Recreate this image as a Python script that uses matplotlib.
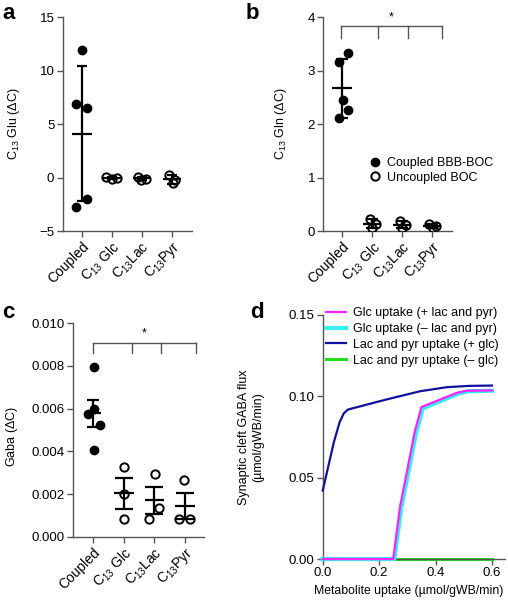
import numpy as np
import matplotlib
matplotlib.use("Agg")
import matplotlib.pyplot as plt
from matplotlib.lines import Line2D

plt.rcParams['font.family'] = ['Liberation Sans', 'DejaVu Sans']
plt.rcParams['mathtext.fontset'] = 'custom'
plt.rcParams['mathtext.rm'] = 'Liberation Sans'
plt.rcParams['mathtext.it'] = 'Liberation Sans:italic'
plt.rcParams['mathtext.bf'] = 'Liberation Sans:bold'

# ---------------- data ----------------
categories = ['Coupled', 'C$_{13}$ Glc', 'C$_{13}$Lac', 'C$_{13}$Pyr']

# panel a: C13 Glu
a_coupled = [11.9, 6.84, 6.53, -2.75, -1.97]
a_coupled_dx = [0.0, -0.18, 0.18, -0.18, 0.18]
a_glc = [0.05, -0.05, -0.10]
a_lac = [0.10, -0.15, -0.20]
a_pyr = [0.25, -0.20, -0.55]
a_unc_dx = [[-0.18, 0.18, 0.0], [-0.12, 0.15, -0.02], [-0.10, 0.10, 0.05]]

# panel b: C13 Gln
b_coupled = [3.34, 3.17, 2.45, 2.27, 2.12]
b_coupled_dx = [0.20, -0.11, 0.01, 0.18, -0.11]
b_glc = [0.22, 0.13, 0.05]
b_lac = [0.18, 0.12, 0.06]
b_pyr = [0.13, 0.10, 0.06]
b_unc_dx = [[-0.08, 0.13, 0.0], [-0.08, 0.14, 0.0], [-0.11, 0.12, 0.02]]

# panel c: Gaba
c_coupled = [0.00794, 0.00599, 0.00574, 0.00524, 0.00406]
c_coupled_dx = [0.02, 0.03, -0.17, 0.20, 0.02]
c_glc = [0.00328, 0.00199, 0.00082]
c_lac = [0.00294, 0.00136, 0.00082]
c_pyr = [0.00266, 0.00082, 0.00082]
c_unc_dx = [[0.0, 0.0, 0.0], [0.02, 0.16, -0.16], [-0.02, -0.19, 0.16]]

# panel d: model curves
d_blue_x = [0.0, 0.04, 0.06, 0.075, 0.09, 0.227, 0.345, 0.44, 0.52, 0.6]
d_blue_y = [0.042, 0.072, 0.084, 0.0895, 0.0918, 0.098, 0.103, 0.1055, 0.1063, 0.1065]
d_mag_x = [0.0, 0.25, 0.274, 0.327, 0.35, 0.475, 0.51, 0.6]
d_mag_y = [0.0, 0.0, 0.032, 0.0787, 0.0933, 0.102, 0.1033, 0.1035]
d_cyan_x = [0.0, 0.254, 0.278, 0.331, 0.355, 0.48, 0.515, 0.6]
d_cyan_y = [0.0, 0.0, 0.031, 0.0775, 0.0925, 0.1015, 0.103, 0.1033]
d_green_x = [0.0, 0.6]
d_green_y = [0.0, 0.0]
d_labels = ['Glc uptake (+ lac and pyr)', 'Glc uptake (\u2013 lac and pyr)',
            'Lac and pyr uptake (+ glc)', 'Lac and pyr uptake (\u2013 glc)']

SPINE = '#555555'
TICKFS = 9.5
CATFS = 10
LABFS = 9

fig = plt.figure(figsize=(5.08, 6.0), dpi=100)


def style(ax):
    for s in ['top', 'right']:
        ax.spines[s].set_visible(False)
    for s in ['left', 'bottom']:
        ax.spines[s].set_color(SPINE)
        ax.spines[s].set_linewidth(1.0)
    ax.tick_params(direction='out', length=4, width=1.0, color=SPINE,
                   labelsize=TICKFS, pad=2)


def dotplot(ax, coupled, cdx, groups, gdx, err, cap_pt, mean_hw):
    xs = np.arange(4)
    ax.plot(xs[0] + np.array(cdx), coupled, 'o', ms=6.0, color='black',
            zorder=3)
    allg = [coupled] + groups
    for i, g in enumerate(groups):
        ax.plot(xs[i + 1] + np.array(gdx[i]), g, 'o', ms=6.0, mfc='none',
                mec='black', mew=1.4, zorder=3)
    for i, g in enumerate(allg):
        g = np.array(g)
        m = g.mean()
        sd = g.std(ddof=1)
        e = sd if err == 'sd' else sd / np.sqrt(len(g))
        ax.errorbar([xs[i]], [m], yerr=[e], fmt='none', ecolor='black',
                    elinewidth=1.6, capsize=cap_pt[i], capthick=1.6, zorder=4)
        ax.hlines(m, xs[i] - mean_hw[i], xs[i] + mean_hw[i], color='black',
                  lw=1.6, zorder=4)
    ax.set_xticks(xs)
    ax.set_xticklabels(categories, rotation=45, ha='right', va='top',
                       rotation_mode='anchor', fontsize=CATFS)


def bracket(ax, y_top, y_bot, xs, star_x, star_y):
    ax.plot([xs[0], xs[-1]], [y_top, y_top], color=SPINE, lw=1.0,
            clip_on=False)
    for x in xs:
        ax.plot([x, x], [y_top, y_bot], color=SPINE, lw=1.0, clip_on=False)
    ax.text(star_x, star_y, '*', ha='center', va='center', fontsize=9)


# ---- panel a ----
axa = fig.add_axes([0.1234, 0.615, 0.254, 0.3562])
style(axa)
dotplot(axa, a_coupled, a_coupled_dx, [a_glc, a_lac, a_pyr], a_unc_dx, 'sd',
        [3.6, 3.6, 3.6, 3.6], [0.33, 0.3, 0.3, 0.3])
axa.set_xlim(-0.64, 3.66)
axa.set_ylim(-5, 15)
axa.set_yticks([-5, 0, 5, 10, 15])
axa.set_yticklabels(['\u22125', '0', '5', '10', '15'])
axa.set_ylabel('C$_{13}$ Glu ($\\Delta$C)', fontsize=LABFS)
axa.yaxis.set_label_coords(-0.315, 0.5)

# ---- panel b ----
axb = fig.add_axes([0.6364, 0.615, 0.2524, 0.3562])
style(axb)
dotplot(axb, b_coupled, b_coupled_dx, [b_glc, b_lac, b_pyr], b_unc_dx, 'sd',
        [4.5, 4.5, 4.5, 4.5], [0.34, 0.3, 0.3, 0.3])
axb.set_xlim(-0.63, 3.64)
axb.set_ylim(0, 4)
axb.set_yticks([0, 1, 2, 3, 4])
axb.set_ylabel('C$_{13}$ Gln ($\\Delta$C)', fontsize=LABFS)
axb.yaxis.set_label_coords(-0.268, 0.5)
bracket(axb, 3.83, 3.61, [-0.05, 1.2, 2.18, 3.31], 1.62, 4.0)
hs = [Line2D([], [], ls='none', marker='o', ms=6.0, color='black'),
      Line2D([], [], ls='none', marker='o', ms=6.0, mfc='none', mec='black',
             mew=1.4)]
axb.legend(hs, ['Coupled BBB-BOC', 'Uncoupled BOC'], loc='upper left',
           bbox_to_anchor=(0.353, 0.345), frameon=False, fontsize=LABFS,
           handlelength=1.0, handletextpad=0.45, labelspacing=0.18,
           borderpad=0, borderaxespad=0)

# ---- panel c ----
axc = fig.add_axes([0.1443, 0.1055, 0.2573, 0.3557])
style(axc)
dotplot(axc, c_coupled, c_coupled_dx, [c_glc, c_lac, c_pyr], c_unc_dx, 'sem',
        [4.5, 6.5, 6.5, 6.5], [0.25, 0.32, 0.32, 0.32])
axc.set_xlim(-0.66, 3.63)
axc.set_ylim(0, 0.010)
axc.set_yticks([0, 0.002, 0.004, 0.006, 0.008, 0.010])
axc.set_yticklabels(['0.000', '0.002', '0.004', '0.006', '0.008', '0.010'])
axc.set_ylabel('Gaba ($\\Delta$C)', fontsize=LABFS)
axc.yaxis.set_label_coords(-0.408, 0.47)
bracket(axc, 0.00909, 0.0086, [-0.02, 1.26, 2.22, 3.37], 1.66, 0.00953)

# ---- panel d ----
axd = fig.add_axes([0.6352, 0.0683, 0.3583, 0.4072])
style(axd)
axd.plot(d_green_x, d_green_y, color='#22dd22', lw=2.2, label=d_labels[3],
         zorder=2, clip_on=False)
axd.plot(d_cyan_x, d_cyan_y, color='#33eeee', lw=3.0, label=d_labels[1],
         zorder=3, clip_on=False)
axd.plot(d_mag_x, d_mag_y, color='#ff22ff', lw=1.6, label=d_labels[0],
         zorder=4, clip_on=False)
axd.plot(d_blue_x, d_blue_y, color='#1111a0', lw=1.6, label=d_labels[2],
         zorder=5, clip_on=False)
axd.set_xlim(0, 0.645)
axd.set_ylim(0, 0.15)
axd.set_xticks([0, 0.2, 0.4, 0.6])
axd.set_xticklabels(['0.0', '0.2', '0.4', '0.6'])
axd.set_yticks([0, 0.05, 0.10, 0.15])
axd.set_yticklabels(['0.00', '0.05', '0.10', '0.15'])
axd.set_xlabel('Metabolite uptake (\u00b5mol/gWB/min)', fontsize=8.8)
axd.xaxis.set_label_coords(0.47, -0.108)
axd.set_ylabel('Synaptic cleft GABA flux\n(\u00b5mol/gWB/min)', fontsize=LABFS,
               linespacing=1.2)
axd.yaxis.set_label_coords(-0.323, 0.5)
h, l = axd.get_legend_handles_labels()
order = [2, 1, 3, 0]
axd.legend([h[i] for i in order], [l[i] for i in order], loc='upper left',
           bbox_to_anchor=(0.016, 1.03), frameon=False, fontsize=LABFS,
           handlelength=1.6, handletextpad=0.6, labelspacing=0.3,
           borderpad=0, borderaxespad=0)

# panel letters
for txt, x, y in [('a', 0.004, 0.995), ('b', 0.484, 0.995),
                  ('c', 0.004, 0.497), ('d', 0.492, 0.497)]:
    fig.text(x, y, txt, fontsize=16, fontweight='bold', ha='left', va='top')

fig.savefig('out.png', dpi=100)
